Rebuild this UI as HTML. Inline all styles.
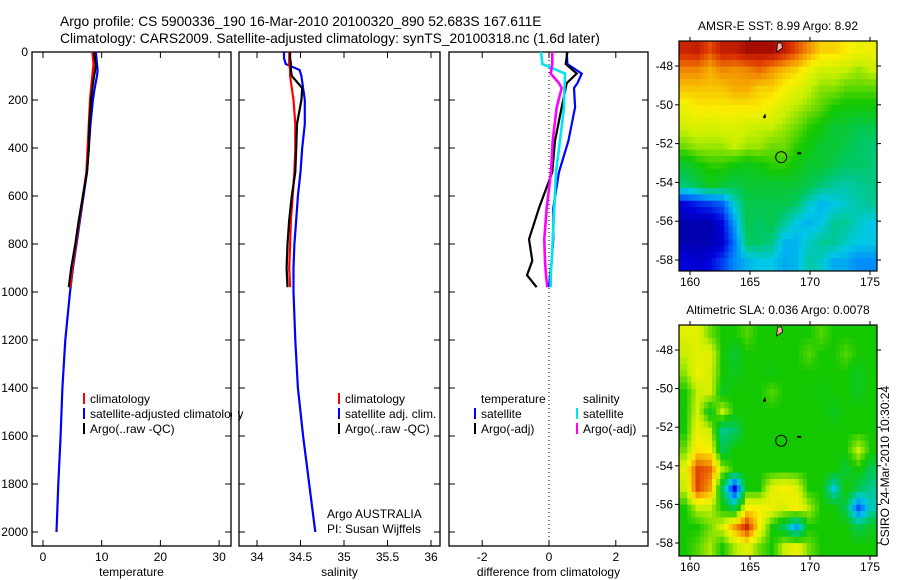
<!DOCTYPE html>
<html><head><meta charset="utf-8"><style>
html,body{margin:0;padding:0;background:#fff;}
svg{display:block;font-family:"Liberation Sans",sans-serif;}
</style></head><body>
<svg id="fig" width="900" height="580" viewBox="0 0 900 580" xmlns="http://www.w3.org/2000/svg">
<text x="60" y="26" font-size="13.8">Argo profile: CS 5900336_190 16-Mar-2010 20100320_890 52.683S 167.611E</text>
<text x="60" y="43" font-size="13.8">Climatology: CARS2009. Satellite-adjusted climatology: synTS_20100318.nc (1.6d later)</text>
<text x="889" y="546" font-size="12" transform="rotate(-90 889 546)">CSIRO 24-Mar-2010 10:30:24</text>
<g id="plots"></g>
</svg>
<script>
// ---------- profile data ----------
const depthShallow = [0,25,50,75,100,150,200,300,400,500,600,700,800,900,980];
const depthDeep = [1000,1200,1400,1600,1800,2000];
const tempClim = [8.4,8.5,8.6,8.5,8.4,8.2,8.0,7.8,7.6,7.4,6.8,6.2,5.6,5.0,4.7];
const tempSat = [9.0,9.1,9.2,9.3,9.2,8.8,8.5,8.1,7.8,7.5,6.9,6.3,5.7,5.1,4.7];
const tempSatDeep = [4.6,3.8,3.3,3.0,2.6,2.3];
const tempArgo = [8.7,8.8,9.0,8.9,8.7,8.4,8.2,7.9,7.8,7.5,6.8,6.1,5.5,4.8,4.4];
const salClim = [34.37,34.37,34.37,34.38,34.38,34.40,34.42,34.44,34.44,34.43,34.41,34.39,34.38,34.37,34.38];
const salSat = [34.31,34.31,34.33,34.49,34.51,34.53,34.55,34.55,34.52,34.50,34.47,34.45,34.43,34.42,34.42];
const salSatDeep = [34.42,34.44,34.47,34.53,34.60,34.67];
const salArgo = [34.38,34.38,34.39,34.39,34.40,34.52,34.51,34.46,34.45,34.44,34.40,34.37,34.35,34.34,34.35];
const diffDepth = [0,50,90,130,150,230,370,500,650,780,870,930,980];
const diffTempSat = [0.53,0.55,0.98,0.85,0.75,0.78,0.58,0.30,0.13,0.13,0.08,0.03,0.0];
const diffTempArgo = [0.55,0.50,0.83,0.53,0.50,0.38,0.18,0.10,-0.30,-0.60,-0.50,-0.66,-0.37];
const diffSalSat = [-0.24,-0.20,0.48,0.47,0.46,0.45,0.33,0.21,0.16,0.11,0.08,0.05,0.05];
const diffSalArgo = [0.10,0.10,0.05,0.30,0.38,0.23,0.11,0.06,-0.07,-0.14,-0.12,-0.09,-0.05];
const depthTicks = [0,200,400,600,800,1000,1200,1400,1600,1800,2000];
const tempTicks = [0,10,20,30];
const salTicks = [34,34.5,35,35.5,36];
const diffTicks = [-2,0,2];
// ---------- map data ----------
const mapLonTicks = [160,165,170,175];
const mapLatTicks = [-48,-50,-52,-54,-56,-58];
const sstGrid = [
[12.4,12.5,12,12.5,12.5,12.8,12.8,12.8,12.5,12,11.5,11,11,10.8,10.6,10.6],
[11.6,11.6,11.3,11.6,11.5,11.6,11.8,11.5,11.2,11,10.6,10.3,10.3,10.2,10,10.2],
[11.1,11.1,11.1,11.1,11.3,11.3,11,11,10.7,10.5,10.2,9.9,9.9,9.7,9.7,9.7],
[10.6,10.8,10.8,10.8,10.8,10.8,10.8,10.6,10.3,10.1,9.9,9.7,9.4,9.3,9.3,9.3],
[10.3,10.4,10.3,10.4,10.4,10.3,10.2,10.2,10,9.8,9.5,9.3,9,9,8.8,8.8],
[9.8,10,10,10,10.2,10,10,9.8,9.8,9.5,9.3,9,9,8.8,8.6,8.5],
[9.0,9.3,9.5,9.5,9.3,9.2,9.3,9.5,9.5,9.3,9,9,8.8,8.6,8.6,8.5],
[8.5,8.8,9.2,9,8.8,9,9,9,9,9,8.8,8.5,8.3,8.2,8.3,8.4],
[6,6.3,6.5,6.8,8,8.8,8.8,8.8,8.8,8.6,8,7.6,7.8,8,8.2,8.3],
[5.5,5.5,5.5,6,7.4,8.8,8.6,8.8,8.3,7.8,7.6,7.8,8.3,8.3,8,7.8],
[5.5,5.5,5.5,5.8,7,8.6,8.6,8.4,7.6,7.6,8,8.3,8.3,8,7.8,7.8],
[6,5.8,6,6.5,7.2,7.6,7.8,7.8,7.5,7.6,8.2,8,7.5,7.5,7.2,7.2]];
const slaGrid = [
[.08,.08,.03,0,0,.02,0,0,0,0,0,.02,0,0,0,0],
[.06,.08,.08,0,-.03,0,0,0,0,0,.02,0,0,.02,0,0],
[.04,.09,.07,0,-.02,0,0,-.01,0,0,0,0,0,0,-.02,0],
[0,.06,.07,-.02,0,0,0,.02,0,0,0,-.01,0,0,-.02,0],
[0,.07,-.02,.06,0,0,0,0,0,0,0,0,-.02,0,0,0],
[0,.09,.06,-.08,-.06,0,0,0,0,0,0,0,0,0,0,0],
[.03,.11,.1,-.05,0,0,0,0,0,0,0,0,0,0,.06,0],
[.08,.2,.18,.05,0,0,0,0,0,0,0,0,0,-.03,0,-.05],
[.06,.2,.15,-.05,-.25,0,0,.08,.1,.08,0,0,-.12,0,-.05,-.08],
[0,.06,.06,0,-.05,.1,.1,.09,.07,.1,.05,0,0,-.05,-.2,-.1],
[0,0,.03,.07,.15,.22,.1,0,-.05,-.15,0,0,0,0,-.05,-.02],
[0,.02,.05,0,.05,.08,.03,0,.06,.09,.03,0,0,0,0,0]];
const floatLon = 167.6, floatLat = -52.7;

const NS="http://www.w3.org/2000/svg";
const root=document.getElementById('plots');
function mk(tag,attrs,parent){const e=document.createElementNS(NS,tag);for(const k in attrs)e.setAttribute(k,attrs[k]);(parent||root).appendChild(e);return e;}
function txt(x,y,s,size,anchor,parent){const t=mk('text',{x:x,y:y,'font-size':size,'text-anchor':anchor||'start'},parent);t.textContent=s;return t;}

const yD = d => 52 + d*0.24;
const TOP=52, BOT=546;

function panel(name,x0,x1,xs,ticks,label,fmt,leftLabels){
  const g=mk('g',{});
  
  
  const f=mk('rect',{x:x0,y:TOP,width:x1-x0,height:BOT-TOP,fill:'none',stroke:'#000','stroke-width':1.3},g);
  
  
  depthTicks.forEach(d=>{const y=yD(d);
    mk('line',{x1:x0,x2:x0+6,y1:y,y2:y,stroke:'#000'},g);
    mk('line',{x1:x1-6,x2:x1,y1:y,y2:y,stroke:'#000'},g);
    if(leftLabels){const t=txt(x0-4,y+4,String(d),12,'end',g);
      
      }
  });
  ticks.forEach(v=>{const x=xs(v);
    mk('line',{x1:x,x2:x,y1:TOP,y2:TOP+6,stroke:'#000'},g);
    mk('line',{x1:x,x2:x,y1:BOT-6,y2:BOT,stroke:'#000'},g);
    const t=txt(x,BOT+15,fmt(v),12,'middle',g);
    
    
  });
  const l=txt((x0+x1)/2,BOT+30,label,12,'middle',g);
  
  
  return g;
}
function line(g,xs,vals,depths,color,name,w){
  const pts=vals.map((v,i)=>xs(v).toFixed(1)+','+yD(depths[i]).toFixed(1)).join(' ');
  const p=mk('polyline',{points:pts,fill:'none',stroke:color,'stroke-width':w||2.2},g);
  
  
}
function legend(g,x,y,color,label,name){
  if(color) mk('rect',{x:x,y:y-10,width:2,height:11,fill:color},g);
  const t=txt(x+7,y,label,12,'start',g);
  
  
}

// Panel 1 temperature
const xT=v=>43+v*5.87;
const g1=panel('temperature-panel',32,231,xT,tempTicks,'temperature',v=>String(v),true);
line(g1,xT,tempSat.concat(tempSatDeep),depthShallow.concat(depthDeep),'#0000ff','temp-satellite-line');
line(g1,xT,tempClim,depthShallow,'#ff0000','temp-climatology-line');
line(g1,xT,tempArgo,depthShallow,'#000','temp-argo-line');
legend(g1,83,403,'#ff0000','climatology','legend-climatology');
legend(g1,83,418,'#0000ff','satellite-adjusted climatology','legend-satellite-adjusted');
legend(g1,83,433,'#000','Argo(..raw -QC)','legend-argo');

// Panel 2 salinity
const xS=v=>257+(v-34)*87;
const g2=panel('salinity-panel',239,440,xS,salTicks,'salinity',v=>String(v),false);
mk('rect',{x:232,y:380,width:6,height:60,fill:'#fff'},g2);
line(g2,xS,salSat.concat(salSatDeep),depthShallow.concat(depthDeep),'#0000ff','sal-satellite-line');
line(g2,xS,salClim,depthShallow,'#ff0000','sal-climatology-line');
line(g2,xS,salArgo,depthShallow,'#000','sal-argo-line');
legend(g2,338,403,'#ff0000','climatology','legend-climatology');
legend(g2,338,418,'#0000ff','satellite adj. clim.','legend-satellite-adj');
legend(g2,338,433,'#000','Argo(..raw -QC)','legend-argo');
const c1=txt(327,518,'Argo AUSTRALIA',12,'start',g2);


const c2=txt(327,533,'PI: Susan Wijffels',12,'start',g2);



// Panel 3 differences
const xDf=v=>549+v*33.4;
const g3=panel('difference-panel',449,648,xDf,diffTicks,'difference from climatology',v=>v<0?'-'+Math.abs(v):String(v),false);
const zl=mk('line',{x1:xDf(0),x2:xDf(0),y1:TOP,y2:BOT,stroke:'#000','stroke-dasharray':'1,3'},g3);


line(g3,xDf,diffTempSat,diffDepth,'#0000ff','diff-temp-satellite-line');
line(g3,xDf,diffTempArgo,diffDepth,'#000','diff-temp-argo-line');
line(g3,xDf,diffSalSat,diffDepth,'#00e5ee','diff-sal-satellite-line',2.6);
line(g3,xDf,diffSalArgo,diffDepth,'#ff00ff','diff-sal-argo-line',2.6);
legend(g3,474,403,null,'temperature','legend-temperature-heading');
legend(g3,474,418,'#0000ff','satellite','legend-temp-satellite');
legend(g3,474,433,'#000','Argo(-adj)','legend-temp-argo');
legend(g3,576,403,null,'salinity','legend-salinity-heading');
legend(g3,576,418,'#00e5ee','satellite','legend-sal-satellite');
legend(g3,576,433,'#ff00ff','Argo(-adj)','legend-sal-argo');

// ---------- maps ----------
const cmStops=[[0,[0,0,130]],[0.12,[0,0,220]],[0.25,[0,120,255]],[0.35,[0,200,230]],[0.45,[0,200,100]],[0.55,[20,200,0]],[0.65,[200,240,0]],[0.72,[250,240,0]],[0.8,[245,160,0]],[0.9,[220,50,0]],[1,[150,0,0]]];
function cmap(t){t=Math.max(0,Math.min(1,t));
  for(let k=1;k<cmStops.length;k++){if(t<=cmStops[k][0]){const a=cmStops[k-1],b=cmStops[k];const f=(t-a[0])/(b[0]-a[0]);
    return 'rgb('+a[1].map((c,i)=>Math.round(c+(b[1][i]-c)*f)).join(',')+')';}}
  return 'rgb(150,0,0)';}
function sample(grid,fy,fx){
  const rows=grid.length, cols=grid[0].length;
  fy=Math.max(0,Math.min(rows-1,fy)); fx=Math.max(0,Math.min(cols-1,fx));
  const i0=Math.floor(fy), j0=Math.floor(fx), i1=Math.min(rows-1,i0+1), j1=Math.min(cols-1,j0+1);
  const a=fy-i0, b=fx-j0;
  return grid[i0][j0]*(1-a)*(1-b)+grid[i0][j1]*(1-a)*b+grid[i1][j0]*a*(1-b)+grid[i1][j1]*a*b;}
function map(name,top,bot,lat48y,lat58y,grid,vmin,vmax,title){
  const L=679,R=877;
  const xL=lon=>690+(lon-160)*12;
  const yL=lat=>lat48y+(-48-lat)*(lat58y-lat48y)/10;
  const g=mk('g',{});
  
  
  const rows=grid.length, cols=grid[0].length;
  const sub=3, NR=rows*sub, NC=cols*sub;
  const cw=(R-L)/NC, ch=(bot-top)/NR;
  for(let i=0;i<NR;i++)for(let j=0;j<NC;j++){
    const v=sample(grid,(i+0.5)/sub-0.5,(j+0.5)/sub-0.5);
    const c=mk('rect',{x:(L+j*cw).toFixed(2),y:(top+i*ch).toFixed(2),width:(cw+0.5).toFixed(2),height:(ch+0.5).toFixed(2),fill:cmap((v-vmin)/(vmax-vmin))},g);
    
    
  }
  const f=mk('rect',{x:L,y:top,width:R-L,height:bot-top,fill:'none',stroke:'#000','stroke-width':1.2},g);
  
  
  mapLonTicks.forEach(lon=>{const x=xL(lon);
    mk('line',{x1:x,x2:x,y1:top-4,y2:top,stroke:'#000'},g);
    mk('line',{x1:x,x2:x,y1:bot,y2:bot+4,stroke:'#000'},g);
    const t=txt(x,bot+15,String(lon),12,'middle',g);
    
    });
  mapLatTicks.forEach(lat=>{const y=yL(lat);
    mk('line',{x1:L-4,x2:L,y1:y,y2:y,stroke:'#000'},g);
    mk('line',{x1:R,x2:R+4,y1:y,y2:y,stroke:'#000'},g);
    const t=txt(L-6,y+4,String(lat),12,'end',g);
    
    });
  const m=mk('circle',{cx:xL(floatLon),cy:yL(floatLat),r:5.5,fill:'none',stroke:'#000','stroke-width':1},g);
  
  
  mk('path',{d:'M'+(xL(166.1))+' '+yL(-50.6)+' l2 -3 l1 4 l-3 1 z',fill:'#000'},g);
  mk('path',{d:'M'+(xL(167.3))+' '+(top+2)+' l4 0 l1 5 l-6 4 z',fill:'#f4b0a0',stroke:'#000','stroke-width':0.8},g);
  mk('rect',{x:xL(169.1)-2,y:yL(-52.5)-1,width:4,height:2,fill:'#000'},g);
  const tt=txt((L+R)/2,top-11,title,12,'middle',g);
  
  
}
map('sst-map',41,271,66,260,sstGrid,5,13,'AMSR-E SST: 8.99 Argo: 8.92');
map('sla-map',325,556,350,543,slaGrid,-0.33,0.27,'Altimetric SLA: 0.036 Argo: 0.0078');
</script>
</body></html>
